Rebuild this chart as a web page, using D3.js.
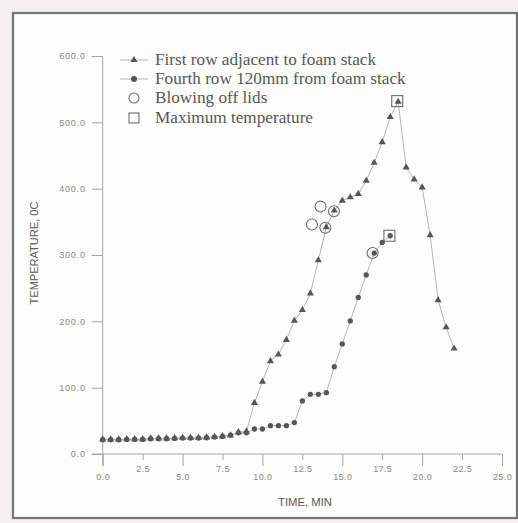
<!DOCTYPE html>
<html>
<head>
<meta charset="utf-8">
<script src="https://cdn.jsdelivr.net/npm/d3@7"></script>
<style>
  html, body { margin: 0; padding: 0; background: #f2f1ee; }
  svg { display: block; }
</style>
</head>
<body>
<svg id="chart" width="518" height="523"></svg>
<script>
// ---- data ----
const timeFirst = [0,0.5,1,1.5,2,2.5,3,3.5,4,4.5,5,5.5,6,6.5,7,7.5,8,8.5,9,9.5,10,10.5,11,11.5,12,12.5,13,13.5,14,14.5,15,15.5,16,16.5,17,17.5,18,18.5,19,19.5,20,20.5,21,21.5,22];
const tempFirst = [22,22,22,22.5,22.5,22.5,23.5,23.5,23.5,24,24.5,24.5,24.5,25,26,27,28,33,34,77,109,140,150,172,201,217,242,292,342,367,382,387,392,412,439,470,508,531,432,414,402,330,232,191,159];
const timeFourth = [0,0.5,1,1.5,2,2.5,3,3.5,4,4.5,5,5.5,6,6.5,7,7.5,8,8.5,9,9.5,10,10.5,11,11.5,12,12.5,13,13.5,14,14.5,15,15.5,16,16.5,17,17.5,18];
const tempFourth = [21.5,21.5,21.5,22,22,22,23,23,23,23.5,24,24,24,24.5,25.5,26.5,28.6,32,32,37.7,37.7,42.7,42.7,42.7,47.3,80,90,90,92.5,131.7,166,200.6,236,270,302.7,319,329];
const lidTimes = [13.1, 13.94, 13.64, 14.48, 16.9];
const lidTemps = [346, 341, 373, 366, 303];
const maxTimes = [18.44, 17.95];
const maxTemps = [532, 329];
const xTicks = [0,2.5,5,7.5,10,12.5,15,17.5,20,22.5,25];
const yTicks = [0,100,200,300,400,500,600];
const legendLabels = ["First row adjacent to foam stack","Fourth row 120mm from foam stack","Blowing off lids","Maximum temperature"];

const svg = d3.select("#chart");

// frame
svg.append("rect").attr("x",13).attr("y",13).attr("width",504).attr("height",505)
  .attr("fill","#fdfdfb").attr("stroke","#747472").attr("stroke-width",2.2);

const x = d3.scaleLinear().domain([0,25]).range([102.7,502]);
const y = d3.scaleLinear().domain([0,600]).range([454,56]);

const axisColor = "#a5a5a5";
const tickText = "#8a8a8a";

// Y axis
const yAxis = svg.append("g").attr("transform","translate(102.7,0)")
  .call(d3.axisLeft(y).tickValues(yTicks).tickFormat(d3.format(".1f")).tickSize(11).tickPadding(6));
yAxis.select(".domain").remove();
yAxis.append("line").attr("x1",0).attr("x2",0).attr("y1",y(600)).attr("y2",466).attr("stroke",axisColor);
yAxis.selectAll(".tick line").attr("stroke",axisColor);
yAxis.selectAll(".tick text").attr("fill",tickText).style("font-family","Liberation Sans, Arial, sans-serif")
  .style("font-size","9px").style("letter-spacing","0.8px");

// X axis
const xAxis = svg.append("g").attr("transform","translate(0,454)")
  .call(d3.axisBottom(x).tickValues(xTicks).tickFormat(d3.format(".1f")).tickSize(12).tickPadding(10));
xAxis.select(".domain").remove();
xAxis.append("line").attr("x1",92).attr("x2",x(25)).attr("y1",0).attr("y2",0).attr("stroke",axisColor);
xAxis.selectAll(".tick").each(function(d,i){
  const g = d3.select(this);
  const minor = (i % 2 === 1);
  g.select("line").attr("stroke",axisColor).attr("y2", minor ? 6 : 12);
  g.select("text").attr("y", minor ? 12 : 20).attr("fill",tickText)
    .style("font-family","Liberation Sans, Arial, sans-serif").style("font-size","9px").style("letter-spacing","0.4px");
});

// axis titles
svg.append("text").attr("x",305).attr("y",506).attr("text-anchor","middle")
  .attr("textLength",54).attr("lengthAdjust","spacingAndGlyphs")
  .attr("fill","#5a5a5a").style("font-family","Liberation Sans, Arial, sans-serif").style("font-size","10.5px")
  .text("TIME, MIN");
svg.append("text").attr("transform","translate(38,253) rotate(-90)").attr("text-anchor","middle")
  .attr("textLength",103).attr("lengthAdjust","spacingAndGlyphs")
  .attr("fill","#5a5a5a").style("font-family","Liberation Sans, Arial, sans-serif").style("font-size","10.5px")
  .text("TEMPERATURE, 0C");

// lines
const markColor = "#575757";
const lineColor = "#adadad";
const line = d3.line().x(d => x(d[0])).y(d => y(d[1]));
const first = timeFirst.map((t,i) => [t, tempFirst[i]]);
const fourth = timeFourth.map((t,i) => [t, tempFourth[i]]);
svg.append("path").datum(fourth).attr("d",line).attr("fill","none").attr("stroke",lineColor).attr("stroke-width",0.9);
svg.append("path").datum(first).attr("d",line).attr("fill","none").attr("stroke",lineColor).attr("stroke-width",0.9);

const tri = d3.symbol().type(d3.symbolTriangle).size(22);
const circ = d3.symbol().type(d3.symbolCircle).size(22);

svg.append("g").selectAll("path").data(fourth).join("path")
  .attr("transform", d => `translate(${x(d[0])},${y(d[1])})`).attr("d",circ).attr("fill",markColor);
svg.append("g").selectAll("path").data(first).join("path")
  .attr("transform", d => `translate(${x(d[0])},${y(d[1])})`).attr("d",tri).attr("fill",markColor);

// lids
svg.append("g").selectAll("circle").data(lidTimes).join("circle")
  .attr("cx", d => x(d)).attr("cy", (d,i) => y(lidTemps[i])).attr("r",5.5)
  .attr("fill","none").attr("stroke","#6f6f6f").attr("stroke-width",1.1);
// max squares
svg.append("g").selectAll("rect").data(maxTimes).join("rect")
  .attr("x", d => x(d)-5.5).attr("y", (d,i) => y(maxTemps[i])-5.5).attr("width",11).attr("height",11)
  .attr("fill","none").attr("stroke","#6f6f6f").attr("stroke-width",1.1);

// legend
const lg = svg.append("g");
const rowsY = [60,79,98,118];
const legendFont = "Liberation Serif, Times New Roman, serif";
legendLabels.forEach((lab,i) => {
  const yy = rowsY[i];
  if (i < 2) {
    lg.append("line").attr("x1",120).attr("x2",148).attr("y1",yy).attr("y2",yy).attr("stroke",lineColor).attr("stroke-width",0.9);
    lg.append("path").attr("transform",`translate(134,${yy})`).attr("d", i===0 ? tri : d3.symbol().type(d3.symbolCircle).size(28)).attr("fill",markColor);
  } else if (i === 2) {
    lg.append("circle").attr("cx",134).attr("cy",yy).attr("r",5).attr("fill","none").attr("stroke","#6f6f6f").attr("stroke-width",1.1);
  } else {
    lg.append("rect").attr("x",129).attr("y",yy-5).attr("width",10).attr("height",10).attr("fill","none").attr("stroke","#6f6f6f").attr("stroke-width",1.1);
  }
  lg.append("text").attr("x",155).attr("y",yy+5).attr("fill","#585858")
    .style("font-family",legendFont).style("font-size","17.2px").text(lab);
});
</script>
</body>
</html>
